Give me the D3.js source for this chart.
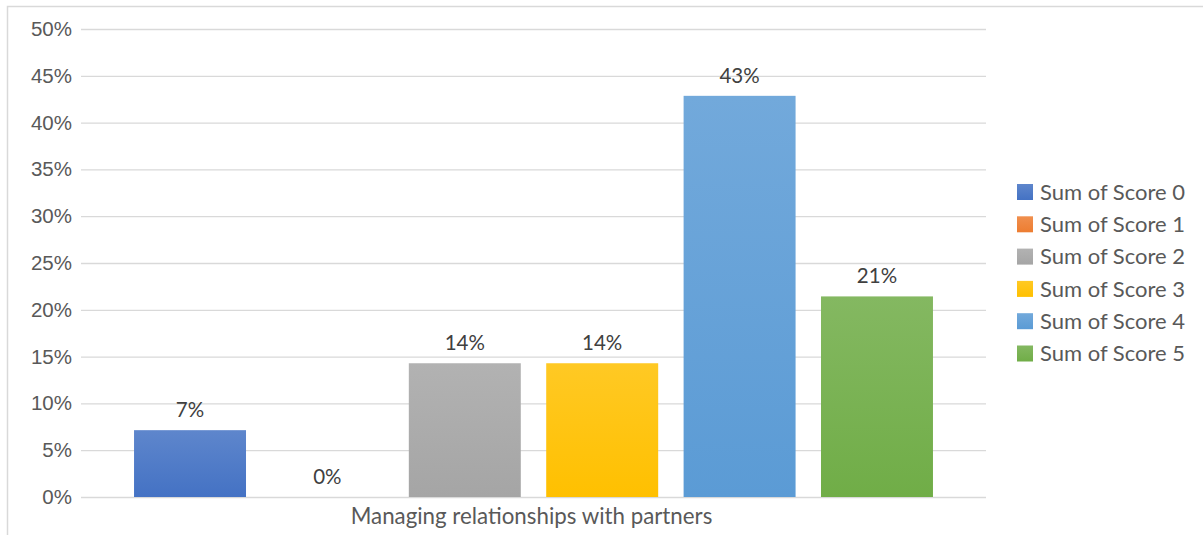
<!DOCTYPE html>
<html>
<head>
<meta charset="utf-8">
<script src="https://cdn.jsdelivr.net/npm/d3@7"></script>
<style>
  html, body { margin: 0; padding: 0; background: #fff; }
  svg { display: block; font-family: Lato, "Open Sans", sans-serif; }
</style>
</head>
<body>
<svg id="chart" width="1203" height="535"></svg>
<script>
// Share of respondents by score for one competency
const category = "Managing relationships with partners";
const seriesNames = ["Sum of Score 0", "Sum of Score 1", "Sum of Score 2", "Sum of Score 3", "Sum of Score 4", "Sum of Score 5"];
const seriesValues = [0.0714, 0.0, 0.1429, 0.1429, 0.4286, 0.2143];
const seriesColors = ["#4472c4", "#ed7d31", "#a5a5a5", "#ffc000", "#5b9bd5", "#70ad47"];
const tickValues = [0, 0.05, 0.10, 0.15, 0.20, 0.25, 0.30, 0.35, 0.40, 0.45, 0.50];

const svg = d3.select("#chart");
const W = 1203, H = 535;
const plot = { left: 81, right: 986, top: 29, bottom: 497 };
const textColor = "#595959";
const gridColor = "#d9d9d9";

// Outer chart frame
svg.append("path")
  .attr("d", `M7.5,${H} L7.5,6.5 L${W},6.5`)
  .attr("fill", "none")
  .attr("stroke", gridColor)
  .attr("stroke-width", 1.5);

const y = d3.scaleLinear().domain([0, 0.5]).range([plot.bottom, plot.top]);
const x = d3.scaleBand()
  .domain(seriesNames)
  .range([plot.left, plot.right])
  .paddingInner(0.185)
  .paddingOuter(0.386);

// Vertical gradients, lighter at the top
const defs = svg.append("defs");
seriesColors.forEach((c, i) => {
  const g = defs.append("linearGradient")
    .attr("id", "grad" + i)
    .attr("x1", 0).attr("y1", 0).attr("x2", 0).attr("y2", 1);
  g.append("stop").attr("offset", "0%").attr("stop-color", d3.interpolateRgb(c, "#ffffff")(0.14));
  g.append("stop").attr("offset", "100%").attr("stop-color", c);
});

// Gridlines and percentage axis
const yAxis = d3.axisLeft(y)
  .tickValues(tickValues)
  .tickFormat(d3.format(".0%"))
  .tickSize(-(plot.right - plot.left))
  .tickPadding(9);

const ga = svg.append("g")
  .attr("transform", `translate(${plot.left},0)`)
  .call(yAxis);
ga.select(".domain").remove();
ga.selectAll(".tick line")
  .attr("stroke", gridColor)
  .attr("stroke-width", 1.3);
ga.selectAll(".tick text")
  .attr("fill", textColor)
  .style("font-size", "20.5px");

// Bars
svg.append("g").selectAll("rect")
  .data(seriesValues)
  .join("rect")
  .attr("x", (d, i) => x(seriesNames[i]))
  .attr("width", x.bandwidth())
  .attr("y", d => y(d))
  .attr("height", d => y(0) - y(d))
  .attr("fill", (d, i) => `url(#grad${i})`);

// Value labels
svg.append("g").selectAll("text")
  .data(seriesValues)
  .join("text")
  .attr("x", (d, i) => x(seriesNames[i]) + x.bandwidth() / 2)
  .attr("y", d => y(d) - 13)
  .attr("text-anchor", "middle")
  .attr("fill", "#404040")
  .style("font-size", "20.5px")
  .text(d => d3.format(".0%")(d));

// Category label
svg.append("text")
  .attr("x", (plot.left + plot.right) / 2 - 2)
  .attr("y", 524)
  .attr("text-anchor", "middle")
  .attr("fill", textColor)
  .style("font-size", "22.3px")
  .text(category);

// Legend
const legend = svg.append("g").attr("transform", "translate(1017,184)");
const rowH = 32.3;
const items = legend.selectAll("g")
  .data(seriesNames)
  .join("g")
  .attr("transform", (d, i) => `translate(0,${i * rowH})`);
items.append("rect")
  .attr("width", 16).attr("height", 16)
  .attr("fill", (d, i) => `url(#grad${i})`);
items.append("text")
  .attr("x", 23)
  .attr("y", 8)
  .attr("dy", "0.35em")
  .attr("fill", textColor)
  .style("font-size", "22px")
  .text(d => d);
</script>
</body>
</html>
